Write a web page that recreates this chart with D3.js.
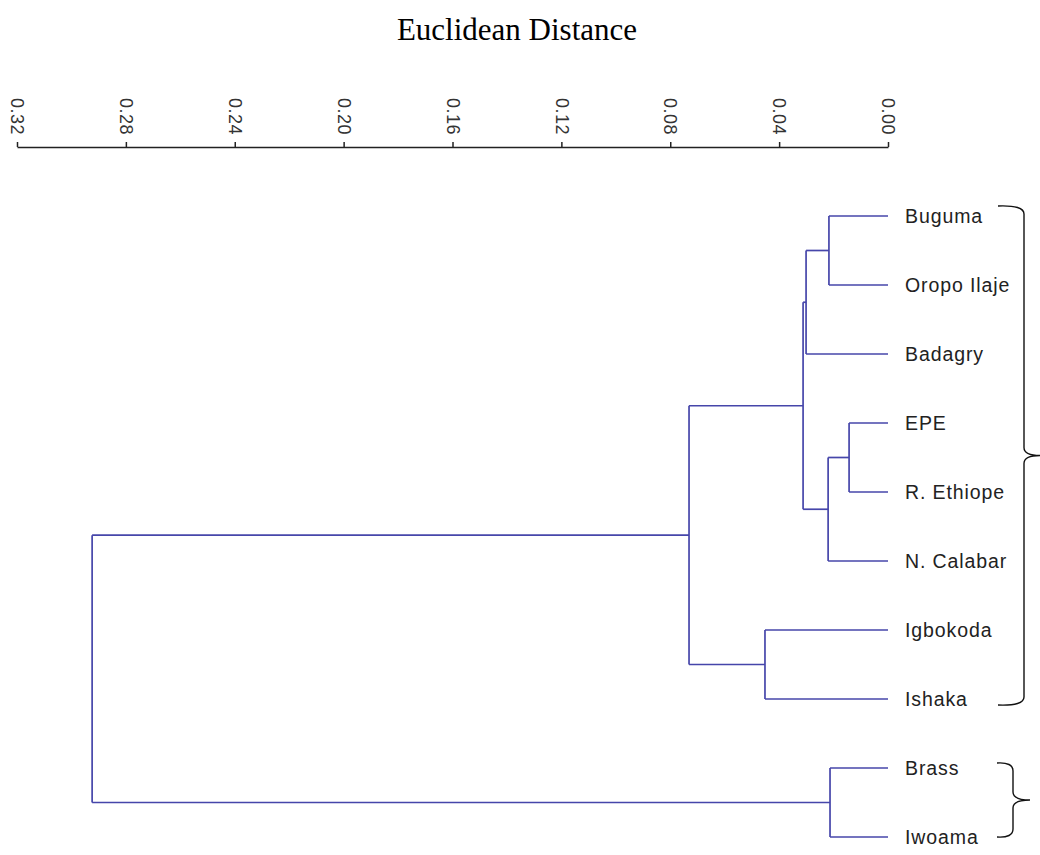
<!DOCTYPE html>
<html lang="en">
<head>
<meta charset="UTF-8">
<script src="https://d3js.org/d3.v7.min.js"></script>
<title>Dendrogram</title>
<style>
  body { margin: 0; background: #fff; }
</style>
</head>
<body>
<script>
// leaves in display order (top to bottom)
var leaves = ["Buguma", "Oropo Ilaje", "Badagry", "EPE", "R. Ethiope",
              "N. Calabar", "Igbokoda", "Ishaka", "Brass", "Iwoama"];

// linkage: [left child, right child, distance]; ids >= 10 are earlier merges
var merges = [
  [3, 4, 0.0143],
  [8, 9, 0.0213],
  [0, 1, 0.0217],
  [10, 5, 0.0220],
  [12, 2, 0.0301],
  [14, 13, 0.0312],
  [6, 7, 0.0452],
  [15, 16, 0.0731],
  [17, 11, 0.2924]
];

var tickValues = [0.32, 0.28, 0.24, 0.20, 0.16, 0.12, 0.08, 0.04, 0.00];

var braces = [
  { from: "Buguma", to: "Ishaka" },
  { from: "Brass", to: "Iwoama" }
];

var width = 1040, height = 855;
var lineColor = "#4646aa";

var svg = d3.select("body").append("svg")
  .attr("width", width)
  .attr("height", height);

var x = d3.scaleLinear().domain([0.32, 0]).range([17, 888]);
var y = d3.scalePoint().domain(leaves).range([216, 837]);

// build tree from linkage
var nodes = leaves.map(function (name) { return { name: name, height: 0 }; });
merges.forEach(function (m) {
  nodes.push({ children: [nodes[m[0]], nodes[m[1]]], height: m[2] });
});
var root = d3.hierarchy(nodes[nodes.length - 1]);
root.eachAfter(function (d) {
  d.px = x(d.data.height);
  if (d.children) {
    d.py = d3.mean(d.children, function (c) { return c.py; });
  } else {
    d.py = y(d.data.name);
  }
});

// title
svg.append("text")
  .attr("x", 517)
  .attr("y", 40)
  .attr("text-anchor", "middle")
  .style("font-family", "'Liberation Serif', 'Times New Roman', serif")
  .style("font-size", "31px")
  .style("fill", "#000")
  .text("Euclidean Distance");

// axis
var axis = svg.append("g")
  .attr("transform", "translate(0,147)")
  .call(d3.axisTop(x).tickValues(tickValues).tickSize(5).tickSizeOuter(0)
    .tickFormat(d3.format(".2f")));
axis.select(".domain").attr("stroke", "#222").attr("stroke-width", 1.5);
axis.selectAll(".tick line").attr("stroke", "#222").attr("stroke-width", 1.5);
axis.selectAll(".tick text")
  .attr("x", 0).attr("y", 0).attr("dy", "0.35em")
  .attr("transform", "translate(0,-12) rotate(90)")
  .attr("text-anchor", "end")
  .style("font-family", "'Liberation Sans', Arial, sans-serif")
  .style("font-size", "18px")
  .style("letter-spacing", "0.5px")
  .style("fill", "#333");

// dendrogram links
var g = svg.append("g")
  .attr("fill", "none")
  .attr("stroke", lineColor)
  .attr("stroke-width", 1.7);

root.descendants().forEach(function (d) {
  if (d.children) {
    g.append("path")
      .attr("d", "M" + d.px + "," + d.children[0].py + "V" + d.children[1].py);
    d.children.forEach(function (c) {
      g.append("path").attr("d", "M" + d.px + "," + c.py + "H" + c.px);
    });
  }
});

// leaf labels
svg.selectAll("text.leaf")
  .data(root.leaves())
  .enter().append("text")
  .attr("class", "leaf")
  .attr("x", x(0) + 17)
  .attr("y", function (d) { return d.py; })
  .attr("dy", "0.35em")
  .style("font-family", "'Liberation Sans', Arial, sans-serif")
  .style("font-size", "19.5px")
  .style("letter-spacing", "0.9px")
  .style("fill", "#222")
  .text(function (d) { return d.data.name; });

// group braces on the right
var braceShape = [
  { x0: 998, xv: 1024, tip: 1040, top: -10, bottom: 6 },
  { x0: 997, xv: 1013, tip: 1030, top: -5, bottom: 0 }
];
braces.forEach(function (b, i) {
  var s = braceShape[i];
  var y0 = y(b.from) + s.top, y1 = y(b.to) + s.bottom, ym = (y0 + y1) / 2;
  var r = 8;
  var p = d3.path();
  p.moveTo(s.x0, y0);
  p.quadraticCurveTo(s.xv, y0 - 1, s.xv, y0 + r);
  p.lineTo(s.xv, ym - r);
  p.quadraticCurveTo(s.xv, ym, s.tip, ym);
  p.quadraticCurveTo(s.xv, ym, s.xv, ym + r);
  p.lineTo(s.xv, y1 - r);
  p.quadraticCurveTo(s.xv, y1 + 1, s.x0, y1);
  svg.append("path")
    .attr("d", p.toString())
    .attr("fill", "none")
    .attr("stroke", "#111")
    .attr("stroke-width", 1.4);
});
</script>
</body>
</html>
